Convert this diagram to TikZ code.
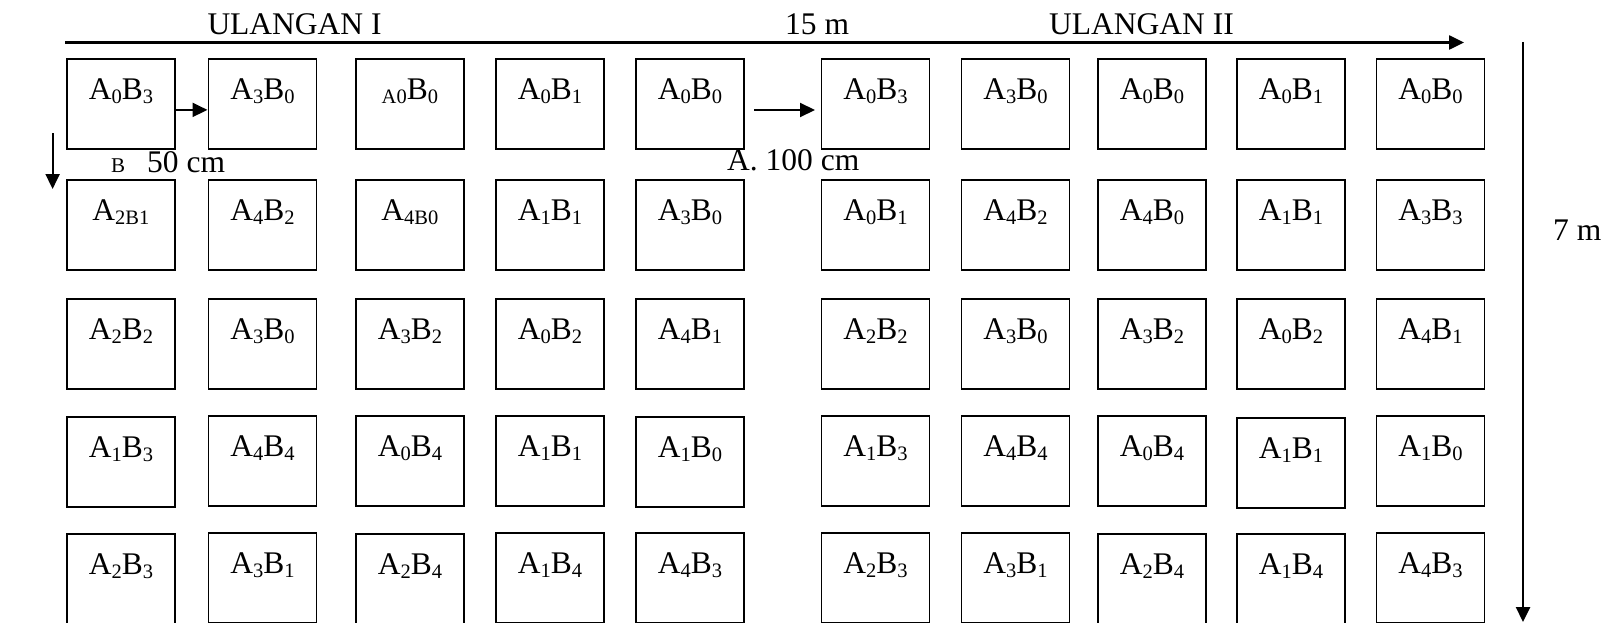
\documentclass[tikz,border=0pt]{standalone}
\usepackage{fontspec}
\setmainfont{Liberation Serif}
\usetikzlibrary{arrows.meta}
\newcommand\sbs[1]{\raisebox{-4.5pt}{\fontsize{20.5}{22}\selectfont #1}}
\newcommand\ab[2]{A\sbs{#1}B\sbs{#2}}
\tikzset{
  plot/.style={draw, line width=1.8pt, anchor=north west, inner sep=0pt,
    minimum width=108pt, text height=40.5pt, text depth=49.5pt,
    font=\fontsize{31.5}{34}\selectfont},
  txt/.style={inner sep=0pt, font=\fontsize{31.5}{34}\selectfont},
  arr/.style={line width=2pt, -{Triangle[length=15pt,width=14pt]}},
  longline/.style={line width=2.5pt, -{Triangle[length=15pt,width=14pt]}}
}
\begin{document}
\begin{tikzpicture}[x=1pt,y=-1pt]
\useasboundingbox (0,0) rectangle (1602,623);
% row 1
\node[plot] (r1c1) at (66,58) {\ab03};
\node[plot] (r1c2) at (207.5,58) {\ab30};
\node[plot] (r1c3) at (355,58) {\sbs{A0}B\sbs{0}};
\node[plot] (r1c4) at (495,58) {\ab01};
\node[plot] (r1c5) at (635,58) {\ab00};
\node[plot] (r1c6) at (820.5,58) {\ab03};
\node[plot] (r1c7) at (960.5,58) {\ab30};
\node[plot] (r1c8) at (1097,58) {\ab00};
\node[plot] (r1c9) at (1236,58) {\ab01};
\node[plot] (r1c10) at (1375.5,58) {\ab00};
% row 2
\node[plot] (r2c1) at (66,179) {A\sbs{2B1}};
\node[plot] (r2c2) at (207.5,179) {\ab42};
\node[plot] (r2c3) at (355,179) {A\sbs{4B0}};
\node[plot] (r2c4) at (495,179) {\ab11};
\node[plot] (r2c5) at (635,179) {\ab30};
\node[plot] (r2c6) at (820.5,179) {\ab01};
\node[plot] (r2c7) at (960.5,179) {\ab42};
\node[plot] (r2c8) at (1097,179) {\ab40};
\node[plot] (r2c9) at (1236,179) {\ab11};
\node[plot] (r2c10) at (1375.5,179) {\ab33};
% row 3
\node[plot] (r3c1) at (66,298) {\ab22};
\node[plot] (r3c2) at (207.5,298) {\ab30};
\node[plot] (r3c3) at (355,298) {\ab32};
\node[plot] (r3c4) at (495,298) {\ab02};
\node[plot] (r3c5) at (635,298) {\ab41};
\node[plot] (r3c6) at (820.5,298) {\ab22};
\node[plot] (r3c7) at (960.5,298) {\ab30};
\node[plot] (r3c8) at (1097,298) {\ab32};
\node[plot] (r3c9) at (1236,298) {\ab02};
\node[plot] (r3c10) at (1375.5,298) {\ab41};
% row 4
\node[plot] (r4c1) at (66,416) {\ab13};
\node[plot] (r4c2) at (207.5,415) {\ab44};
\node[plot] (r4c3) at (355,415) {\ab04};
\node[plot] (r4c4) at (495,415) {\ab11};
\node[plot] (r4c5) at (635,416) {\ab10};
\node[plot] (r4c6) at (820.5,415) {\ab13};
\node[plot] (r4c7) at (960.5,415) {\ab44};
\node[plot] (r4c8) at (1097,415) {\ab04};
\node[plot] (r4c9) at (1236,417) {\ab11};
\node[plot] (r4c10) at (1375.5,415) {\ab10};
% row 5
\node[plot] (r5c1) at (66,533) {\ab23};
\node[plot] (r5c2) at (207.5,532) {\ab31};
\node[plot] (r5c3) at (355,533) {\ab24};
\node[plot] (r5c4) at (495,532) {\ab14};
\node[plot] (r5c5) at (635,532) {\ab43};
\node[plot] (r5c6) at (820.5,532) {\ab23};
\node[plot] (r5c7) at (960.5,532) {\ab31};
\node[plot] (r5c8) at (1097,533) {\ab24};
\node[plot] (r5c9) at (1236,533) {\ab14};
\node[plot] (r5c10) at (1375.5,532) {\ab43};
% texts
\node[txt, anchor=base west] (ul1) at (207.3,34.3) {ULANGAN I};
\node[txt, anchor=base west] (len) at (785,34.3) {15 m};
\node[txt, anchor=base west] (ul2) at (1049,34.3) {ULANGAN II};
\node[txt, anchor=base west] (bdist) at (111,172) {{\fontsize{21}{22}\selectfont B}\hspace{22pt}50 cm};
\node[txt, anchor=base west] (adist) at (727,170.7) {A. 100 cm};
\node[txt, anchor=base west] (wid) at (1553,240) {7 m};
% arrows
\coordinate (tl) at (65,42.5);
\coordinate (tr) at (1464,42.5);
\draw[longline] (tl) -- (tr);
\coordinate (vt) at (1523,42);
\coordinate (vb) at (1523,622);
\draw[longline] (vt) -- (vb);
\coordinate (dt) at (52.6,133);
\coordinate (db) at (52.6,189);
\draw[arr] (dt) -- (db);
\draw[arr] ([yshift=-6pt]r1c1.east) -- ([yshift=-6pt]r1c2.west);
\coordinate (at) at (754,110);
\coordinate (ah) at (815,110);
\draw[arr] (at) -- (ah);
\end{tikzpicture}
\end{document}
